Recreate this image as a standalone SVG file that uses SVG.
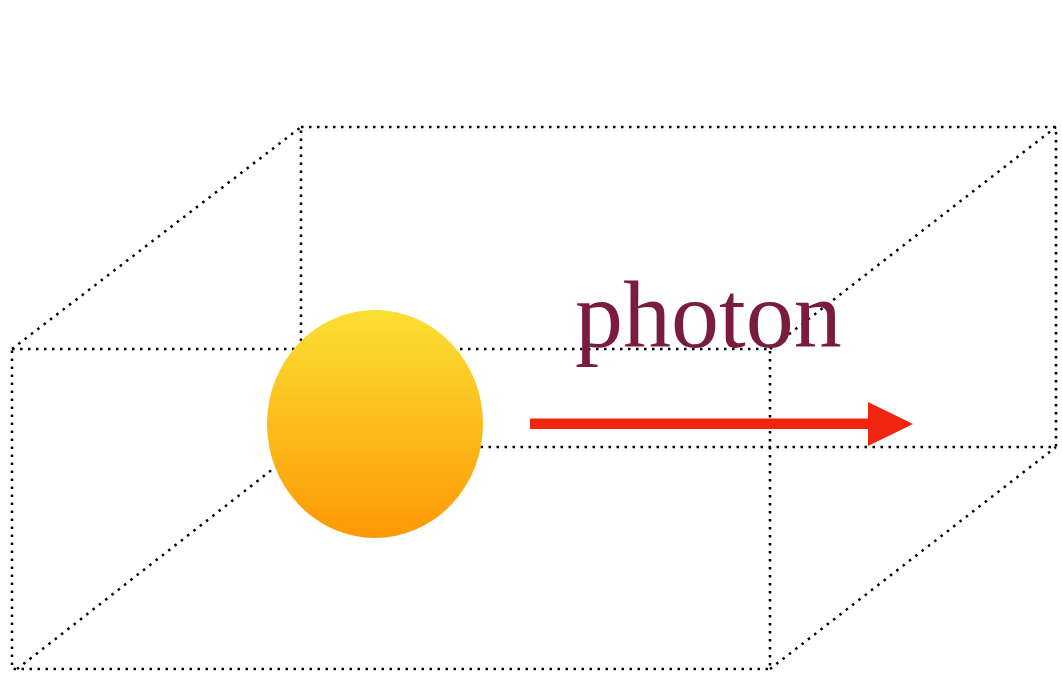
<svg xmlns="http://www.w3.org/2000/svg" width="1062" height="677" viewBox="0 0 1062 677">
  <defs>
    <linearGradient id="sun" x1="0" y1="0" x2="0" y2="1">
      <stop offset="0" stop-color="#FADF34"/>
      <stop offset="1" stop-color="#FE9905"/>
    </linearGradient>
    <style>
      .dot { fill: none; stroke: #000; stroke-width: 2.5; stroke-dasharray: 2.5 5.5; }
      .label { font-family: "Liberation Serif", "Times New Roman", serif; font-size: 96px; fill: #7A1B40; }
    </style>
  </defs>
  <rect width="1062" height="677" fill="#fff"/>
  <g id="box">
    <rect class="dot" x="12" y="349" width="758" height="320"/>
    <rect class="dot" x="301" y="127" width="755" height="320"/>
    <line class="dot" x1="12" y1="349" x2="301" y2="127"/>
    <line class="dot" x1="770" y1="349" x2="1056" y2="127"/>
    <line class="dot" x1="17" y1="669" x2="301" y2="447"/>
    <line class="dot" x1="770" y1="669" x2="1056" y2="447"/>
  </g>
  <g id="photon-ball">
    <ellipse cx="375" cy="424" rx="108" ry="114" fill="url(#sun)"/>
  </g>
  <g id="connectors">
    <rect x="530" y="418.5" width="340" height="10.5" fill="#F0250F"/>
    <polygon points="868,402 913,424 868,446" fill="#F0250F"/>
  </g>
  <g id="label">
    <text class="label" x="575" y="347">photon</text>
  </g>
</svg>
